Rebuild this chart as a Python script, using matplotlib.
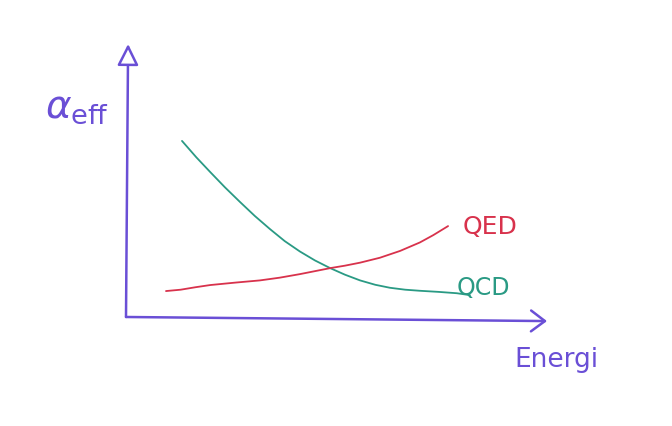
import matplotlib
matplotlib.use("Agg")
import matplotlib.pyplot as plt

# hand sketch of running couplings (arbitrary units 0..10)
qcd_x = [1.33, 1.67, 2.00, 2.35, 2.71, 3.06, 3.42, 3.77, 4.13, 4.49, 4.85, 5.20, 5.56, 5.92, 6.27, 6.63, 6.98, 7.42, 7.86, 8.17]
qcd_y = [6.45, 5.85, 5.31, 4.75, 4.21, 3.70, 3.22, 2.78, 2.40, 2.07, 1.79, 1.55, 1.34, 1.18, 1.07, 1.00, 0.96, 0.92, 0.87, 0.80]

qed_x = [0.95, 1.30, 1.65, 2.00, 2.60, 3.18, 3.65, 4.13, 4.49, 4.85, 5.20, 5.56, 6.03, 6.51, 6.98, 7.30, 7.65]
qed_y = [0.95, 1.00, 1.09, 1.17, 1.26, 1.34, 1.44, 1.57, 1.68, 1.79, 1.88, 1.99, 2.17, 2.42, 2.73, 3.00, 3.33]

axis_color = "#6a4fd6"
qed_color = "#d8324c"
qcd_color = "#2a9a84"

plt.rcParams["mathtext.fontset"] = "dejavusans"

fig = plt.figure(figsize=(6.72, 4.27), dpi=100)
ax = fig.add_axes([0.1875, 0.2553, 0.6265, 0.6393])
ax.set_xlim(0, 10)
ax.set_ylim(0, 10)
ax.axis("off")

# axes drawn as arrows
ax.annotate("", xy=(0.005, 1.0), xytext=(0.0, 0.0), xycoords="axes fraction",
            arrowprops=dict(arrowstyle="-|>,head_length=1.3,head_width=0.65",
                            color=axis_color, fc="white", lw=1.8, shrinkA=0, shrinkB=0))
ax.annotate("", xy=(1.0, -0.015), xytext=(0.0, 0.0), xycoords="axes fraction",
            arrowprops=dict(arrowstyle="->,head_length=1.0,head_width=0.75",
                            color=axis_color, lw=1.8, shrinkA=0, shrinkB=0))

ax.plot(qcd_x, qcd_y, color=qcd_color, lw=1.3, solid_capstyle="round")
ax.plot(qed_x, qed_y, color=qed_color, lw=1.3, solid_capstyle="round")

ax.text(8.0, 3.35, "QED", color=qed_color, fontsize=18, va="center", ha="left")
ax.text(7.85, 1.1, "QCD", color=qcd_color, fontsize=17, va="center", ha="left")
fig.text(0.766, 0.14, "Energi", color=axis_color, fontsize=19, va="baseline", ha="left")
fig.text(0.067, 0.749, r"$\alpha_{\mathrm{eff}}$", color=axis_color, fontsize=28,
         va="center", ha="left")

fig.savefig("out.png", dpi=100)
